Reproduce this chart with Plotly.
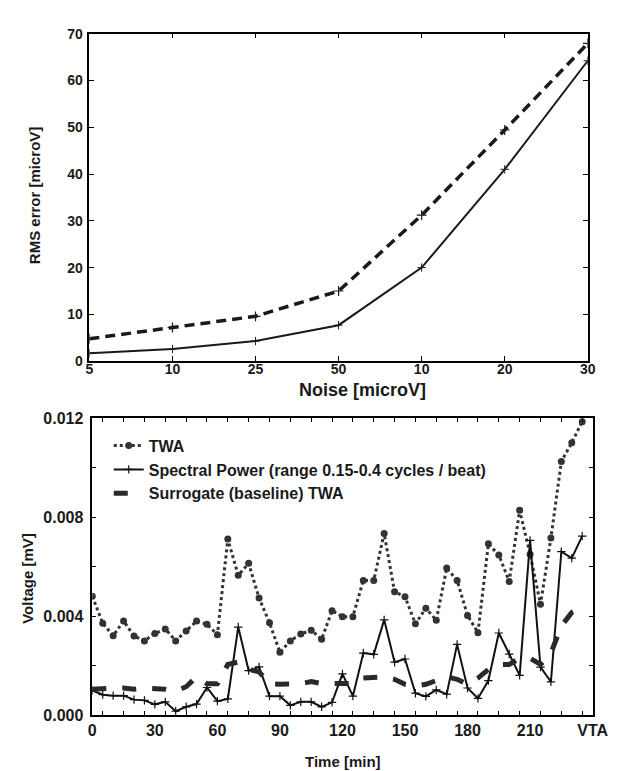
import plotly.graph_objects as go

# ---------- top chart data ----------
noise_pos = [0, 1, 2, 3, 4, 5, 6]
noise_labels = ["5", "10", "25", "50", "10", "20", "30"]
rms_solid = [1.7, 2.6, 4.3, 7.7, 20.0, 41.0, 64.2]
rms_dashed = [4.8, 7.2, 9.6, 15.0, 31.2, 49.4, 67.9]

# ---------- bottom chart data ----------
time_min = list(range(0, 240, 5))
twa = [0.00480, 0.00371, 0.00321, 0.00380, 0.00320, 0.00300, 0.00330, 0.00348,
       0.00300, 0.00340, 0.00380, 0.00367, 0.00325, 0.00711, 0.00565, 0.00613,
       0.00473, 0.00373, 0.00254, 0.00300, 0.00328, 0.00343, 0.00307, 0.00422,
       0.00398, 0.00398, 0.00544, 0.00544, 0.00734, 0.00498, 0.00478, 0.00369,
       0.00432, 0.00383, 0.00594, 0.00544, 0.00403, 0.00333, 0.00692, 0.00647,
       0.00540, 0.00827, 0.00650, 0.00448, 0.00715, 0.01024, 0.01100, 0.01185]
spectral = [0.00100, 0.00083, 0.00079, 0.00079, 0.00063, 0.00060, 0.00044, 0.00054,
            0.00016, 0.00034, 0.00045, 0.00112, 0.00057, 0.00066, 0.00356, 0.00180,
            0.00195, 0.00077, 0.00077, 0.00040, 0.00054, 0.00054, 0.00034, 0.00052,
            0.00167, 0.00077, 0.00251, 0.00246, 0.00385, 0.00214, 0.00227, 0.00089,
            0.00076, 0.00102, 0.00085, 0.00286, 0.00110, 0.00068, 0.00140, 0.00332,
            0.00247, 0.00161, 0.00706, 0.00194, 0.00135, 0.00660, 0.00634, 0.00723]
surrogate = [0.00105, 0.00109, 0.00109, 0.00110, 0.00105, 0.00109, 0.00109, 0.00105,
             0.00097, 0.00115, 0.00155, 0.00127, 0.00127, 0.00205, 0.00215, 0.00185,
             0.00175, 0.00127, 0.00125, 0.00127, 0.00127, 0.00136, 0.00128, 0.00128,
             0.00128, 0.00128, 0.00150, 0.00155, 0.00155, 0.00145, 0.00125, 0.00118,
             0.00125, 0.00140, 0.00155, 0.00145, 0.00125, 0.00150, 0.00185, 0.00205,
             0.00205, 0.00230, 0.00230, 0.00205, 0.00250, 0.00360, 0.00415, 0.00435]
time_tickvals = [0, 30, 60, 90, 120, 150, 180, 210, 240]
time_ticktext = ["0", "30", "60", "90", "120", "150", "180", "210", "VTA"]
volt_tickvals = [0.0, 0.004, 0.008, 0.012]

W, H = 619, 771
FONT = "Liberation Sans, Arial, sans-serif"

def px_x(a, b):
    return [a / W, b / W]

def px_y(top, bottom):
    return [(H - bottom) / H, (H - top) / H]

fig = go.Figure()

# top chart traces
fig.add_trace(go.Scatter(
    x=noise_pos, y=rms_solid, mode="lines+markers", xaxis="x", yaxis="y",
    line=dict(color="#1a1a1a", width=2),
    marker=dict(symbol="cross-thin-open", size=6, line=dict(color="#1a1a1a", width=1)),
    showlegend=False))
fig.add_trace(go.Scatter(
    x=noise_pos, y=rms_dashed, mode="lines+markers", xaxis="x", yaxis="y",
    line=dict(color="#1a1a1a", width=3.5, dash="10px,6px"),
    marker=dict(symbol="cross-thin-open", size=7, line=dict(color="#1a1a1a", width=1.2)),
    showlegend=False))

# bottom chart traces
fig.add_trace(go.Scatter(
    x=time_min, y=twa, mode="lines+markers", name="TWA", xaxis="x2", yaxis="y2",
    line=dict(color="#333333", width=3, dash="dot"),
    marker=dict(symbol="circle", size=7, color="#333333")))
fig.add_trace(go.Scatter(
    x=time_min, y=spectral, mode="lines+markers",
    name="Spectral Power (range 0.15-0.4 cycles / beat)", xaxis="x2", yaxis="y2",
    line=dict(color="#111111", width=2),
    marker=dict(symbol="cross-thin-open", size=6, line=dict(color="#111111", width=1.2))))
fig.add_trace(go.Scatter(
    x=time_min, y=surrogate, mode="lines", name="Surrogate (baseline) TWA",
    xaxis="x2", yaxis="y2",
    line=dict(color="#2a2a2a", width=5, dash="14px,16px")))

axis_common = dict(showline=True, linecolor="black", linewidth=1.5, mirror="ticks",
                   showgrid=False, zeroline=False, tickcolor="black")

fig.update_layout(
    width=W, height=H,
    margin=dict(l=0, r=0, t=0, b=0),
    paper_bgcolor="white", plot_bgcolor="white",
    font=dict(family=FONT, color="#1a1a1a"),
    xaxis=dict(domain=px_x(80, 595), anchor="y", range=[0, 6],
               tickvals=noise_pos, ticktext=noise_labels, ticks="inside", ticklen=5,
               ticklabelstandoff=-6,
               tickfont=dict(size=14, weight="bold"), **axis_common),
    yaxis=dict(domain=px_y(18, 353), anchor="x", range=[0, 70], dtick=10,
               ticks="inside", ticklen=5, ticklabelstandoff=2,
               tickfont=dict(size=14, weight="bold"), **axis_common),
    xaxis2=dict(domain=px_x(83, 600), anchor="y2", range=[0, 240],
                tickvals=time_tickvals, ticktext=time_ticktext, ticks="", ticklen=0,
                minor=dict(tick0=5, dtick=10, ticks="inside", ticklen=4, tickcolor="black"),
                tickfont=dict(size=16, weight="bold"), **axis_common),
    yaxis2=dict(domain=px_y(411, 715), anchor="x2", range=[0, 0.012],
                tickvals=volt_tickvals, tickformat=".3f", ticks="inside", ticklen=4,
                ticklabelstandoff=4,
                minor=dict(dtick=0.002, ticks="inside", ticklen=4, tickcolor="black"),
                tickfont=dict(size=16, weight="bold"), **axis_common),
    legend=dict(x=100 / W, y=(H - 422) / H, xanchor="left", yanchor="top",
                bgcolor="rgba(0,0,0,0)", borderwidth=0,
                font=dict(size=16, weight="bold", family=FONT),
                itemwidth=30, tracegroupgap=0),
    annotations=[
        dict(text="RMS error [microV]", x=24 / W, y=(H - 183) / H, xref="paper", yref="paper",
             xanchor="center", yanchor="middle",
             textangle=-90, showarrow=False, font=dict(size=15, weight="bold")),
        dict(text="Noise [microV]", x=362 / W, y=(H - 382) / H, xref="paper", yref="paper",
             xanchor="center", yanchor="middle",
             showarrow=False, font=dict(size=18, weight="bold")),
        dict(text="Voltage [mV]", x=16 / W, y=(H - 575) / H, xref="paper", yref="paper",
             xanchor="center", yanchor="middle",
             textangle=-90, showarrow=False, font=dict(size=15, weight="bold")),
        dict(text="Time [min]", x=342 / W, y=(H - 762) / H, xref="paper", yref="paper",
             xanchor="center", yanchor="middle",
             showarrow=False, font=dict(size=15, weight="bold")),
    ],
)

fig.write_html("out.html")
